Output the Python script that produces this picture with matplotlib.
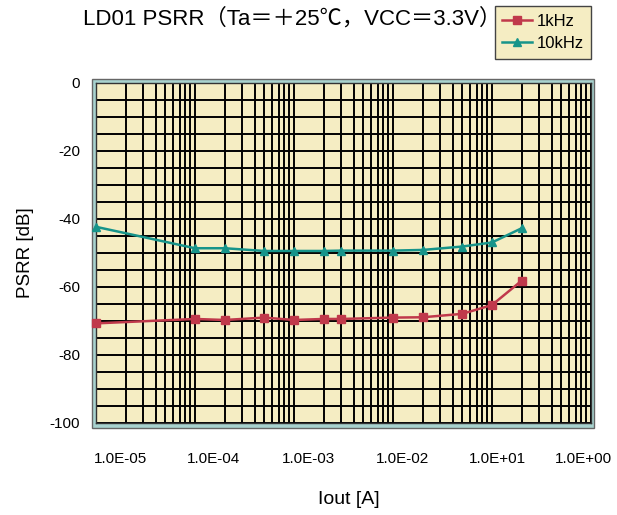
import matplotlib
matplotlib.use('Agg')
import matplotlib.pyplot as plt
import numpy as np
from matplotlib.ticker import LogLocator, MultipleLocator, FixedLocator, NullFormatter
from matplotlib.patches import Rectangle

# ---- data ----
iout = [1e-6, 1e-5, 2e-5, 5e-5, 1e-4, 2e-4, 3e-4, 1e-3, 2e-3, 5e-3, 1e-2, 2e-2]
psrr_1k = [-70.7, -69.4, -69.7, -69.0, -69.7, -69.4, -69.4, -69.0, -68.9, -67.9, -65.3, -58.1]
psrr_10k = [-42.3, -48.6, -48.6, -49.4, -49.4, -49.4, -49.3, -49.3, -49.1, -48.1, -46.9, -42.7]
series_names = ["1kHz", "10kHz"]
xtick_labels = ["1.0E-05", "1.0E-04", "1.0E-03", "1.0E-02", "1.0E+01", "1.0E+00"]
ytick_values = [0, -20, -40, -60, -80, -100]
title = "LD01 PSRR（Ta＝＋25℃，VCC＝3.3V）"

W, H = 617, 515
plt.rcParams['font.family'] = ['Liberation Sans', 'Noto Sans CJK JP', 'DejaVu Sans']
plt.rcParams['axes.unicode_minus'] = False
fig = plt.figure(figsize=(W / 100, H / 100), dpi=100)

# axes placement (pixel -> fraction)
L, R, T, B = 96, 591, 83, 423
ax = fig.add_axes([L / W, 1 - B / H, (R - L) / W, (B - T) / H])
ax.set_facecolor('#f5edc3')

# teal frame behind the plot area
frame = Rectangle((92 / W, 1 - 428 / H), (594 - 92) / W, (428 - 79) / H,
                  transform=fig.transFigure, facecolor='#a8d3cf', edgecolor='#666666',
                  lw=1.0, zorder=-1)
fig.add_artist(frame)

xmin, xmax = 1e-6, 1e-1
ax.set_xscale('log')
ax.set_xlim(xmin, xmax)
ax.set_ylim(-100, 0)

# gridlines: x at every 1..9 per decade, y every 5
ax.xaxis.set_minor_locator(LogLocator(base=10, subs=np.arange(1, 10), numticks=50))
ax.xaxis.set_minor_formatter(NullFormatter())
label_frac = [0.0485, 0.238, 0.430, 0.619, 0.810, 0.984]
label_pos = [10 ** (np.log10(xmin) + f * (np.log10(xmax) - np.log10(xmin))) for f in label_frac]
ax.xaxis.set_major_locator(FixedLocator(label_pos))
ax.set_xticklabels(xtick_labels)
ax.yaxis.set_major_locator(FixedLocator(ytick_values))
ax.yaxis.set_minor_locator(MultipleLocator(5))
ax.grid(False, which='major', axis='x')
ax.grid(True, which='minor', axis='x', color='black', lw=1.4)
ax.grid(True, which='both', axis='y', color='black', lw=1.4)
ax.set_axisbelow(True)
ax.tick_params(which='both', length=0)
ax.tick_params(axis='x', labelsize=11, pad=21)
ax.tick_params(axis='y', labelsize=11, pad=11.5)
for s in ax.spines.values():
    s.set_color('#333333')
    s.set_linewidth(1.0)

l1, = ax.plot(iout, psrr_1k, color='#c0394b', lw=1.8, marker='s', ms=6,
              label=series_names[0], clip_on=False, zorder=5)
l2, = ax.plot(iout, psrr_10k, color='#17948a', lw=1.8, marker='^', ms=6,
              label=series_names[1], clip_on=False, zorder=5)

ax.set_ylabel("PSRR [dB]", fontsize=13.5)
ax.yaxis.set_label_coords(-0.125, 0.5)
fig.text(349 / W, 1 - 500 / H, "Iout [A]", fontsize=14, ha='center', va='center')
fig.text(83 / W, 1 - 19 / H, title, fontsize=16, ha='left', va='center')

leg = fig.legend(handles=[l1, l2], loc='upper right', bbox_to_anchor=(591 / W, 1 - 6 / H),
                 fontsize=12, frameon=True, fancybox=False, handlelength=1.8,
                 borderpad=0.45, labelspacing=0.45, handletextpad=0.25, borderaxespad=0)
leg.get_frame().set_facecolor('#f5edc3')
leg.get_frame().set_edgecolor('#444444')
leg.get_frame().set_linewidth(1.0)
leg.get_frame().set_alpha(1)

fig.savefig('out.png', dpi=100)
